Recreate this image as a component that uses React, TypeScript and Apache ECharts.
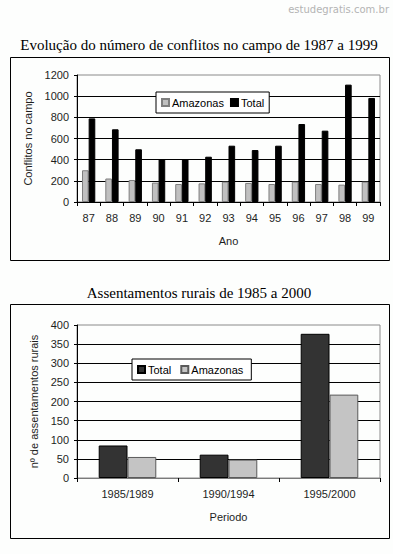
import React, { useEffect, useRef } from "react";
import * as echarts from "echarts";

const years = ["87", "88", "89", "90", "91", "92", "93", "94", "95", "96", "97", "98", "99"];
const conflitosAmazonas = [300, 222, 208, 183, 170, 176, 192, 180, 170, 192, 170, 164, 192];
const conflitosTotal = [790, 687, 498, 406, 406, 428, 532, 491, 532, 737, 674, 1109, 983];

const periodos = ["1985/1989", "1990/1994", "1995/2000"];
const assentTotal = [85, 61, 377];
const assentAmazonas = [55, 48, 218];

const topTicks = [0, 200, 400, 600, 800, 1000, 1200];
const bottomTicks = [0, 50, 100, 150, 200, 250, 300, 350, 400];

export default function App() {
  const ref = useRef<HTMLDivElement>(null);
  useEffect(() => {
    document.body.style.margin = "0";
    const chart = echarts.init(ref.current!, null, { renderer: "svg" });
    const sans = "Liberation Sans";
    const labelColor = "#1e1e1e";
    const axisLabel = { fontFamily: sans, fontSize: 11, color: labelColor, formatter: (v: any) => String(v) };
    const legendBase = {
      orient: "horizontal",
      icon: "rect",
      itemWidth: 7,
      itemHeight: 7,
      itemGap: 6,
      padding: [5, 5],
      borderColor: "#000",
      borderWidth: 1,
      backgroundColor: "#fff",
      textStyle: { fontFamily: sans, fontSize: 11, color: "#000", padding: [0, 0, 0, -2] },
    };
    chart.setOption({
      animation: false,
      backgroundColor: "#fdfefd",
      graphic: [
        {
          type: "text",
          style: {
            text: "estudegratis.com.br",
            x: 389,
            y: 9,
            textAlign: "right",
            textVerticalAlign: "middle",
            font: "10px 'DejaVu Sans'",
            fill: "#b4b4b4",
          },
        },
        {
          type: "text",
          style: {
            text: "Evolução do número de conflitos no campo de 1987 a 1999",
            x: 199,
            y: 45,
            textAlign: "center",
            textVerticalAlign: "middle",
            font: "15px 'Liberation Serif'",
            fill: "#000",
          },
        },
        {
          type: "rect",
          shape: { x: 10.5, y: 57.5, width: 379, height: 203 },
          style: { fill: "none", stroke: "#000", lineWidth: 1 },
          z: -1,
        },
        {
          type: "text",
          style: {
            text: "Assentamentos rurais de 1985 a 2000",
            x: 199,
            y: 293,
            textAlign: "center",
            textVerticalAlign: "middle",
            font: "15px 'Liberation Serif'",
            fill: "#000",
          },
        },
        {
          type: "rect",
          shape: { x: 10.5, y: 304.5, width: 379, height: 234 },
          style: { fill: "none", stroke: "#000", lineWidth: 1 },
          z: -1,
        },
      ],
      grid: [
        { left: 77, right: 13, top: 75, bottom: 352, show: true, borderColor: "#8a8a8a", borderWidth: 1, backgroundColor: "transparent" },
        { left: 77, right: 13, top: 325, bottom: 76, show: true, borderColor: "#8a8a8a", borderWidth: 1, backgroundColor: "transparent" },
      ],
      legend: [
        { ...legendBase, data: ["Amazonas", "Total"], left: 156, top: 92 },
        { ...legendBase, data: ["Total ", "Amazonas "], left: 132, top: 359 },
      ],
      xAxis: [
        {
          type: "category",
          gridIndex: 0,
          data: years,
          axisLine: { lineStyle: { color: "#000" } },
          axisTick: { show: true, length: 4, lineStyle: { color: "#000" } },
          axisLabel: { ...axisLabel, margin: 10 },
          name: "Ano",
          nameLocation: "middle",
          nameGap: 33,
          nameTextStyle: { fontFamily: sans, fontSize: 11, color: labelColor },
        },
        {
          type: "category",
          gridIndex: 1,
          data: periodos,
          axisLine: { lineStyle: { color: "#7a7a7a" } },
          axisTick: { show: true, length: 4, lineStyle: { color: "#000" } },
          axisLabel: { ...axisLabel, margin: 10 },
          name: "Periodo",
          nameLocation: "middle",
          nameGap: 33,
          nameTextStyle: { fontFamily: sans, fontSize: 11, color: labelColor },
        },
      ],
      yAxis: [
        {
          type: "value",
          gridIndex: 0,
          min: topTicks[0],
          max: topTicks[topTicks.length - 1],
          interval: 200,
          axisLine: { show: true, lineStyle: { color: "#000" } },
          axisTick: { show: true, length: 3, lineStyle: { color: "#000" } },
          axisLabel: { ...axisLabel, margin: 8 },
          splitLine: { show: true, showMaxLine: false, showMinLine: false, lineStyle: { color: "#000" } },
          name: "Conflitos no campo",
          nameLocation: "middle",
          nameGap: 38,
          nameTextStyle: { fontFamily: sans, fontSize: 11, color: labelColor },
        },
        {
          type: "value",
          gridIndex: 1,
          min: bottomTicks[0],
          max: bottomTicks[bottomTicks.length - 1],
          interval: 50,
          axisLine: { show: true, lineStyle: { color: "#000" } },
          axisTick: { show: true, length: 3, lineStyle: { color: "#000" } },
          axisLabel: { ...axisLabel, margin: 8 },
          splitLine: { show: true, showMaxLine: false, showMinLine: false, lineStyle: { color: "#000" } },
          name: "nº de assentamentos rurais",
          nameLocation: "middle",
          nameGap: 36,
          nameTextStyle: { fontFamily: sans, fontSize: 11, color: labelColor },
        },
      ],
      series: [
        {
          name: "Amazonas",
          type: "bar",
          xAxisIndex: 0,
          yAxisIndex: 0,
          data: conflitosAmazonas,
          barGap: "0%",
          barCategoryGap: "43%",
          itemStyle: { color: "#c0c0c0", borderColor: "#7f7f7f", borderWidth: 1 },
        },
        {
          name: "Total",
          type: "bar",
          xAxisIndex: 0,
          yAxisIndex: 0,
          data: conflitosTotal,
          barGap: "0%",
          barCategoryGap: "43%",
          itemStyle: { color: "#000", borderColor: "#000", borderWidth: 1 },
        },
        {
          name: "Total ",
          type: "bar",
          xAxisIndex: 1,
          yAxisIndex: 1,
          data: assentTotal,
          barGap: "0%",
          barCategoryGap: "43%",
          itemStyle: { color: "#333333", borderColor: "#000", borderWidth: 1 },
        },
        {
          name: "Amazonas ",
          type: "bar",
          xAxisIndex: 1,
          yAxisIndex: 1,
          data: assentAmazonas,
          barGap: "0%",
          barCategoryGap: "43%",
          itemStyle: { color: "#c4c4c4", borderColor: "#5a5a5a", borderWidth: 1 },
        },
      ],
    });
    return () => chart.dispose();
  }, []);
  return <div ref={ref} style={{ width: 393, height: 554 }} />;
}
